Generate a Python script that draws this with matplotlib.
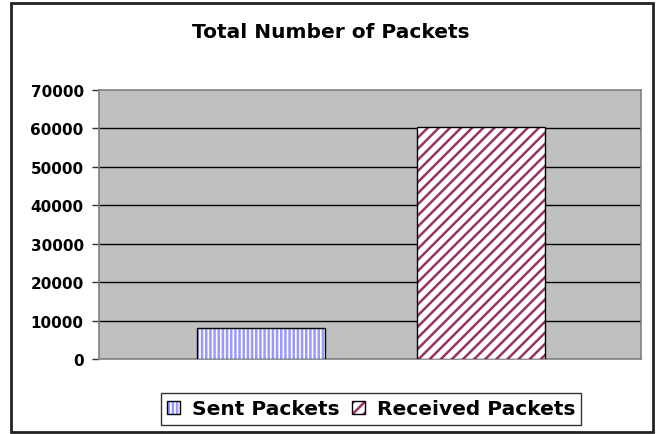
import matplotlib
matplotlib.use("Agg")
import matplotlib.pyplot as plt
from matplotlib.patches import Rectangle
from matplotlib.legend_handler import HandlerTuple

series = ["Sent Packets", "Received Packets"]
values = [8100, 60300]
yticks = [0, 10000, 20000, 30000, 40000, 50000, 60000, 70000]
title = "Total Number of Packets"

plt.rcParams['font.family'] = ['DejaVu Sans']
plt.rcParams['hatch.linewidth'] = 1.8

fig = plt.figure(figsize=(6.64, 4.35), dpi=100)
ax = fig.add_axes([99/664, 1-360/435, (641-99)/664, (360-91)/435])
ax.set_facecolor('#C0C0C0')

offsets = [-0.201, 0.205]
width = 0.237
hatch_colors = ['#9999FF', '#993366']
hatches = ['||||', '///']
handles = []
for off, v, hc, h, name in zip(offsets, values, hatch_colors, hatches, series):
    b1 = ax.bar(off, v, width=width, color='white', edgecolor=hc, hatch=h, linewidth=0, zorder=3)
    b2 = ax.bar(off, v, width=width, fill=False, edgecolor='black', linewidth=1.0, zorder=4)
    handles.append((b1[0], b2[0]))

ax.set_xlim(-0.5, 0.5)
ax.set_ylim(0, 70000)
ax.set_yticks(yticks)
ax.set_yticklabels([str(t) for t in yticks], fontsize=11, fontweight='bold')
ax.set_xticks([])
for yv in yticks[1:-1]:
    ax.axhline(yv, color='black', linewidth=1.0, zorder=1)
for s in ax.spines.values():
    s.set_color('#808080')
    s.set_linewidth(1.2)
ax.tick_params(axis='y', length=5, width=1, color='#333333', pad=6)

fig.text(331/664, 1-32/435, title, ha='center', va='center', fontsize=14.5, fontweight='bold')

leg = fig.legend(handles, series, loc='center', bbox_to_anchor=(371/664, 1-410/435),
                 ncol=2, handler_map={tuple: HandlerTuple(ndivide=1)},
                 prop={'size': 14.5, 'weight': 'bold'}, frameon=True, fancybox=False,
                 edgecolor='black', handlelength=0.65, handleheight=0.65,
                 handletextpad=0.6, columnspacing=0.6, borderpad=0.3)
leg.get_frame().set_linewidth(1.0)

fig.patches.append(Rectangle((11/664, 2/435), (653-11)/664, (431-2)/435,
                             transform=fig.transFigure, fill=False,
                             edgecolor='#222222', linewidth=2))

fig.savefig('out.png', dpi=100)
